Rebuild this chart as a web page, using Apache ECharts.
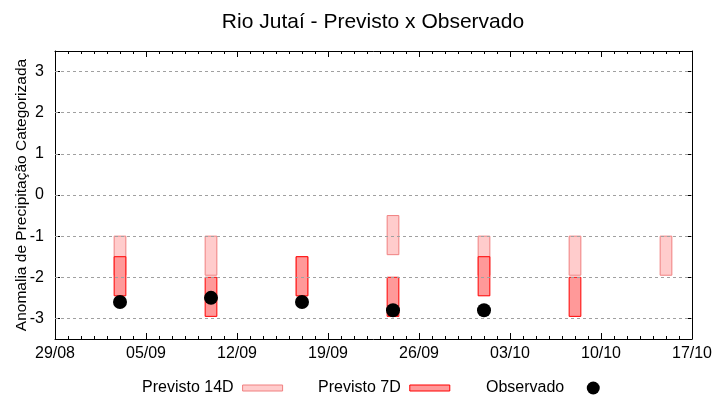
<!DOCTYPE html>
<html>
<head>
<meta charset="utf-8">
<script src="https://cdn.jsdelivr.net/npm/echarts@6/dist/echarts.min.js"></script>
<style>html,body{margin:0;padding:0;background:#fff}#c{width:720px;height:400px}</style>
</head>
<body>
<div id="c"></div>
<script>
// Days counted from 29/08
const xTickLabels = ['29/08', '05/09', '12/09', '19/09', '26/09', '03/10', '10/10', '17/10'];
const yTicks = [-3, -2, -1, 0, 1, 2, 3];
const days = [5, 12, 19, 26, 33, 40, 47];
const p14High = [-1, -1, -1.5, -0.5, -1, -1, -1];
const p14Low = [-1.95, -1.95, -2.45, -1.45, -1.95, -1.95, -1.95];
const p7High = [-1.5, -2, -1.5, -2, -1.5, -2, null];
const p7Low = [-2.45, -2.95, -2.45, -2.95, -2.45, -2.95, null];
const observed = [-2.6, -2.5, -2.6, -2.8, -2.8, null, null];

const FONT = 'Liberation Sans';
const c14 = { fill: '#ffcccc', stroke: '#f08080' };
const c7 = { fill: '#ff9999', stroke: '#ff0000' };

function boxData(hi, lo) {
  const out = [];
  days.forEach((d, i) => { if (hi[i] != null && lo[i] != null) out.push([d, lo[i], hi[i]]); });
  return out;
}
function boxRender(col) {
  return function (params, api) {
    const x = api.value(0), lo = api.value(1), hi = api.value(2);
    const p1 = api.coord([x - 0.45, hi]);
    const p2 = api.coord([x + 0.45, lo]);
    return {
      type: 'rect',
      shape: { x: p1[0], y: p1[1], width: p2[0] - p1[0], height: p2[1] - p1[1] },
      style: { fill: col.fill, stroke: col.stroke, lineWidth: 1 }
    };
  };
}

const chart = echarts.init(document.getElementById('c'), null, { renderer: 'canvas' });
const xBase = {
  type: 'value', min: 0, max: 49, interval: 7,
  axisLine: { show: true, onZero: false, lineStyle: { color: '#000', width: 1 } },
  axisTick: { inside: true, length: 6, lineStyle: { color: '#000' } },
  minorTick: { show: true, splitNumber: 7, length: 3, lineStyle: { color: '#000' } },
  splitLine: { show: false },
  minorSplitLine: { show: false }
};
const yBase = {
  type: 'value', min: -3.5, max: 3.5, interval: 0.5,
  axisLine: { show: true, onZero: false, lineStyle: { color: '#000', width: 1 } },
  axisTick: { show: true, inside: true, length: 5, customValues: yTicks, lineStyle: { color: '#000' } },
  splitLine: { show: false }
};
chart.setOption({
  animation: false,
  title: {
    text: 'Rio Jutaí - Previsto x Observado',
    left: 373, top: 12, textAlign: 'center', padding: 0,
    textStyle: { fontFamily: FONT, fontSize: 21, fontWeight: 'normal', color: '#000' }
  },
  grid: { left: 55, right: 28, top: 51, bottom: 61, containLabel: false, outerBoundsMode: 'none' },
  legend: [{
    data: [
      { name: 'Previsto 14D', icon: 'rect', itemStyle: { color: c14.fill, borderColor: c14.stroke, borderWidth: 1 } },
      { name: 'Previsto 7D', icon: 'rect', itemStyle: { color: c7.fill, borderColor: c7.stroke, borderWidth: 1 } }
    ],
    left: 142, top: 380, padding: 0, align: 'right', itemWidth: 40, itemHeight: 6, itemGap: 35,
    selectedMode: false,
    textStyle: { fontFamily: FONT, fontSize: 16, color: '#000', padding: [0, 4, 0, 0] }
  }, {
    data: [{ name: 'Observado', icon: 'circle', itemStyle: { color: '#000' } }],
    left: 486, top: 380, padding: 0, align: 'right', itemWidth: 40, itemHeight: 13,
    selectedMode: false,
    textStyle: { fontFamily: FONT, fontSize: 16, color: '#000', padding: [0, 4, 0, 0] }
  }],
  xAxis: [
    Object.assign({}, xBase, {
      position: 'bottom',
      axisLabel: {
        margin: 7, fontFamily: FONT, fontSize: 16, color: '#000',
        formatter: v => xTickLabels[Math.round(v / 7)] || ''
      }
    }),
    Object.assign({}, xBase, { position: 'top', axisLabel: { show: false } })
  ],
  yAxis: [
    Object.assign({}, yBase, {
      position: 'left',
      name: 'Anomalia de Precipitação Categorizada',
      nameLocation: 'middle', nameRotate: 90, nameGap: 25, nameMoveOverlap: false,
      nameTextStyle: { fontFamily: FONT, fontSize: 15.5, color: '#000' },
      axisLabel: {
        margin: 11, fontFamily: FONT, fontSize: 16, color: '#000',
        customValues: yTicks,
        formatter: v => (Number.isInteger(v) ? String(v) : '')
      }
    }),
    Object.assign({}, yBase, { position: 'right', axisLabel: { show: false } })
  ],
  series: [
    {
      name: 'grid', type: 'line', data: [], silent: true, z: 1,
      markLine: {
        silent: true, symbol: 'none', animation: false,
        label: { show: false },
        lineStyle: { color: '#a0a0a0', type: [3, 3], width: 1 },
        data: yTicks.map(v => ({ yAxis: v }))
      }
    },
    {
      name: 'Previsto 14D', type: 'custom', z: 2,
      itemStyle: { color: c14.fill, borderColor: c14.stroke },
      renderItem: boxRender(c14), data: boxData(p14High, p14Low),
      encode: { x: 0, y: [1, 2] }
    },
    {
      name: 'Previsto 7D', type: 'custom', z: 3,
      itemStyle: { color: c7.fill, borderColor: c7.stroke },
      renderItem: boxRender(c7), data: boxData(p7High, p7Low),
      encode: { x: 0, y: [1, 2] }
    },
    {
      name: 'Observado', type: 'scatter', z: 4,
      symbol: 'circle', symbolSize: 14,
      itemStyle: { color: '#000', opacity: 1 },
      data: days.map((d, i) => observed[i] == null ? null : [d, observed[i]]).filter(p => p)
    }
  ]
});
</script>
</body>
</html>
